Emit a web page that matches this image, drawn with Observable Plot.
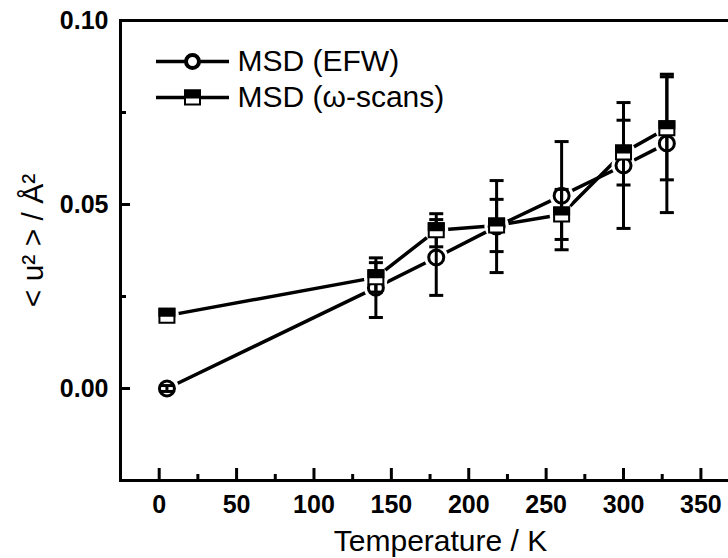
<!DOCTYPE html>
<html><head><meta charset="utf-8">
<script src="https://cdn.jsdelivr.net/npm/d3@7"></script>
<script src="https://cdn.jsdelivr.net/npm/@observablehq/plot@0.6"></script>
<style>
html,body{margin:0;padding:0;background:#fff;overflow:hidden;width:728px;height:558px;}
#chart svg{max-width:none !important;}
</style></head><body><div id="chart"></div>
<script>
// ---- data ----
const temperature = [5, 140, 179, 218, 260, 300, 328];
const msdEFW      = [0.0000, 0.0274, 0.0356, 0.0440, 0.0524, 0.0606, 0.0666];
const errEFW      = [0.0008, 0.0081, 0.0103, 0.0125, 0.0147, 0.0171, 0.0188];
const msdScans    = [0.0198, 0.0302, 0.0430, 0.0443, 0.0473, 0.0641, 0.0707];
const errScans    = [0.0010, 0.0040, 0.0045, 0.0071, 0.0068, 0.0088, 0.0140];
const seriesNames = ["MSD (EFW)", "MSD (\u03C9-scans)"];
const xMajorTicks = [0, 50, 100, 150, 200, 250, 300, 350];
const xMinorTicks = [25, 75, 125, 175, 225, 275, 325, 375];
const yMajorTicks = [0, 0.05, 0.10];
const yMinorTicks = [-0.025, 0.025, 0.075];
const xTitle = "Temperature / K";
const yTitle = "< u\u00B2 > / \u00C5\u00B2";

const efw = temperature.map((t, i) => ({t, v: msdEFW[i], e: errEFW[i]}));
const scans = temperature.map((t, i) => ({t, v: msdScans[i], e: errScans[i]}));

const W = 770, H = 558, mL = 120, mR = 10, mT = 20, mB = 78;
const plotW = W - mL - mR, plotH = H - mT - mB;

const capSymbol = {draw(ctx) { ctx.moveTo(-7, 0); ctx.lineTo(7, 0); }};
const boxSymbol = {draw(ctx) { ctx.rect(-7.5, -7, 15, 14); }};
const topHalfSymbol = {draw(ctx) { ctx.rect(-7.5, -7, 15, 7); }};
const legendLine = {draw(ctx) { ctx.moveTo(-36.5, 0); ctx.lineTo(36.5, 0); }};

function errorMarks(data) {
  return [
    Plot.ruleX(data, {x: "t", y1: d => d.v - d.e, y2: d => d.v + d.e, stroke: "black", strokeWidth: 3}),
    Plot.dot(data, {x: "t", y: d => d.v - d.e, symbol: capSymbol, r: 7, stroke: "black", strokeWidth: 3, fill: "none"}),
    Plot.dot(data, {x: "t", y: d => d.v + d.e, symbol: capSymbol, r: 7, stroke: "black", strokeWidth: 3, fill: "none"})
  ];
}

const chart = Plot.plot({
  width: W, height: H,
  marginLeft: mL, marginRight: mR, marginTop: mT, marginBottom: mB,
  style: {fontFamily: "'Liberation Sans', Arial, sans-serif", background: "white", maxWidth: "none", color: "black"},
  x: {domain: [-25, 388.5], label: null},
  y: {domain: [-0.025, 0.10], label: null},
  marks: [
    Plot.frame({stroke: "black", strokeWidth: 3}),
    Plot.ruleX(xMajorTicks, {x: d => d, insetTop: plotH - 12, stroke: "black", strokeWidth: 3}),
    Plot.ruleX(xMinorTicks, {x: d => d, insetTop: plotH - 6, stroke: "black", strokeWidth: 3}),
    Plot.ruleY(yMajorTicks, {y: d => d, insetRight: plotW - 10, stroke: "black", strokeWidth: 3}),
    Plot.ruleY(yMinorTicks, {y: d => d, insetRight: plotW - 6, stroke: "black", strokeWidth: 3}),
    Plot.axisX({ticks: xMajorTicks, tickSize: 0, tickPadding: 15, tickFormat: d => String(d), fontSize: 25, fontWeight: "bold", label: null}),
    Plot.axisY({ticks: yMajorTicks, tickSize: 0, tickPadding: 12, tickFormat: d3.format(".2f"), fontSize: 25, fontWeight: "bold", label: null}),
    Plot.line(efw, {x: "t", y: "v", stroke: "black", strokeWidth: 3.5}),
    Plot.line(scans, {x: "t", y: "v", stroke: "black", strokeWidth: 3.5}),
    // white gaps around markers (Origin style)
    Plot.dot(efw, {x: "t", y: "v", r: 12, fill: "white", stroke: "none"}),
    Plot.dot(scans, {x: "t", y: "v", r: 12, fill: "white", stroke: "none"}),
    Plot.dot(efw, {x: "t", y: "v", r: 7.5, fill: "white", stroke: "black", strokeWidth: 3}),
    ...errorMarks(efw),
    ...errorMarks(scans),
    Plot.dot(scans, {x: "t", y: "v", symbol: boxSymbol, r: 7, fill: "white", stroke: "black", strokeWidth: 2}),
    Plot.dot(scans, {x: "t", y: "v", symbol: topHalfSymbol, r: 7, fill: "black", stroke: "black", strokeWidth: 2}),
    // legend
    Plot.dot([seriesNames[0]], {frameAnchor: "top-left", dx: 72, dy: 41, symbol: legendLine, r: 7, stroke: "black", strokeWidth: 3.5, fill: "none"}),
    Plot.dot([seriesNames[0]], {frameAnchor: "top-left", dx: 72, dy: 41, r: 6.5, fill: "white", stroke: "black", strokeWidth: 4}),
    Plot.text([seriesNames[0]], {frameAnchor: "top-left", dx: 117, dy: 41, text: d => d, textAnchor: "start", lineAnchor: "middle", fontSize: 30, fill: "black"}),
    Plot.dot([seriesNames[1]], {frameAnchor: "top-left", dx: 72, dy: 77, symbol: legendLine, r: 7, stroke: "black", strokeWidth: 3.5, fill: "none"}),
    Plot.dot([seriesNames[1]], {frameAnchor: "top-left", dx: 72, dy: 77, symbol: boxSymbol, r: 7, fill: "white", stroke: "black", strokeWidth: 2}),
    Plot.dot([seriesNames[1]], {frameAnchor: "top-left", dx: 72, dy: 77, symbol: topHalfSymbol, r: 7, fill: "black", stroke: "black", strokeWidth: 2}),
    Plot.text([seriesNames[1]], {frameAnchor: "top-left", dx: 117, dy: 77, text: d => d, textAnchor: "start", lineAnchor: "middle", fontSize: 30, fill: "black"}),
    // axis titles
    Plot.text([xTitle], {frameAnchor: "bottom", dy: 61, text: d => d, textAnchor: "middle", lineAnchor: "middle", fontSize: 30, fill: "black"}),
    Plot.text([yTitle], {frameAnchor: "left", dx: -87, dy: -10, rotate: -90, text: d => d, textAnchor: "middle", lineAnchor: "middle", fontSize: 30, fill: "black"})
  ]
});
document.getElementById("chart").appendChild(chart);
</script>
</body></html>
